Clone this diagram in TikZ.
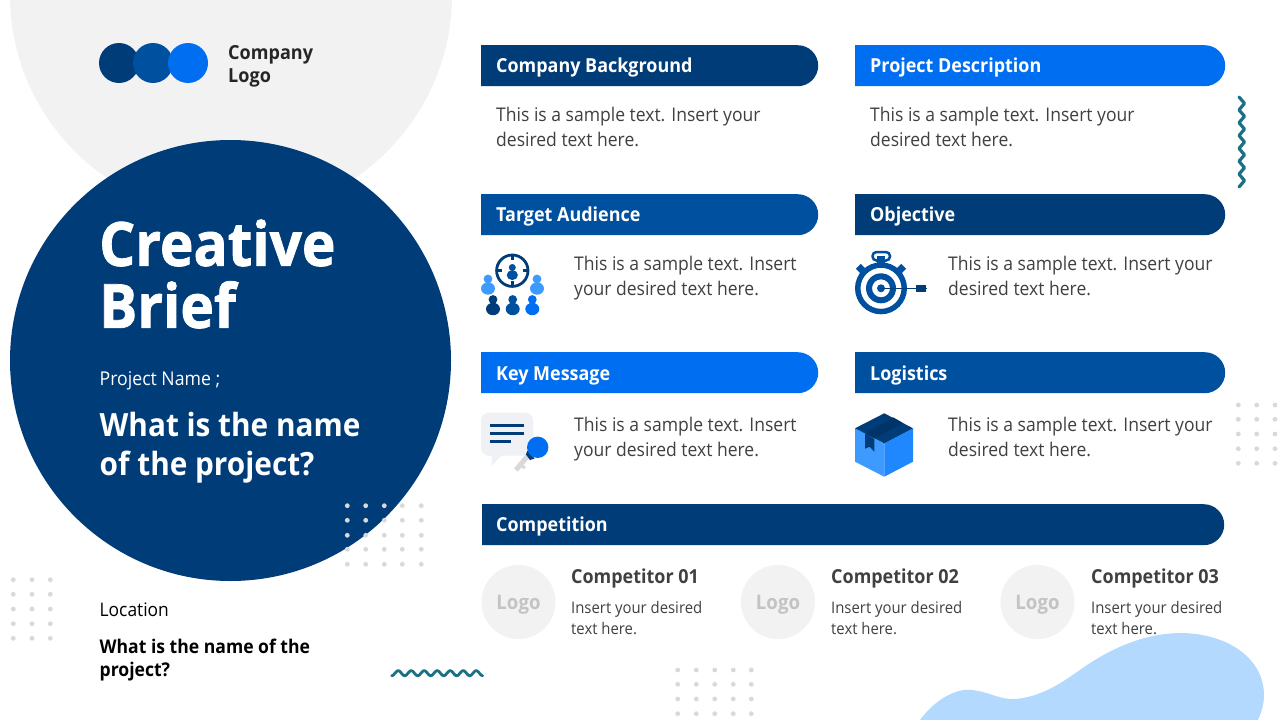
\documentclass[tikz,border=0pt]{standalone}
\usepackage{fontspec}
\setmainfont[FakeStretch=0.93]{Open Sans}
\newfontfamily\titlef[FakeStretch=0.93,BoldFeatures={FakeBold=1.2}]{Open Sans}
\usetikzlibrary{shapes.misc,calc}
\definecolor{navy}{HTML}{003C78}
\definecolor{midb}{HTML}{0050A0}
\definecolor{brightb}{HTML}{006EF0}
\definecolor{skyb}{HTML}{3D9BFF}
\definecolor{faceb}{HTML}{1F88FF}
\definecolor{paleb}{HTML}{B3D9FF}
\definecolor{pale}{HTML}{F2F2F2}
\definecolor{bubble}{HTML}{EFF1F4}
\definecolor{dotc}{HTML}{D9D9D9}
\definecolor{teal2}{HTML}{1A7084}
\definecolor{ink}{HTML}{404040}
\definecolor{ink2}{HTML}{262626}
\tikzset{
 x=1pt,y=-1pt,
 bar/.style={rounded rectangle,rounded rectangle west arc=none,minimum height=41pt,inner sep=0pt,anchor=north west,draw=none},
 barlabel/.style={anchor=base west,inner sep=0pt,text=white,font=\fontsize{19.3}{24}\selectfont\bfseries},
 body/.style={anchor=west,inner sep=0pt,align=left,text=ink,font=\fontsize{18.85}{25}\selectfont},
 small/.style={anchor=west,inner sep=0pt,align=left,text=ink,font=\fontsize{16}{21}\selectfont},
 comphead/.style={anchor=base west,inner sep=0pt,text=ink,font=\fontsize{19.3}{24}\selectfont\bfseries},
 logodisc/.style={circle,fill=pale,minimum size=74pt,inner sep=0pt,text=dotc!90!black,font=\fontsize{20}{24}\selectfont\bfseries},
 zig/.style={draw=teal2,line width=3.2pt,line join=round,line cap=round},
}
\newcommand{\hdr}[7]{% name x y w colour text label-offset
 \node[bar,fill=#5,minimum width=#4pt] (#1) at (#2,#3) {};
 \node[barlabel] (#1t) at ($(#2,#3)+(#7)$) {#6};}
\newcommand{\dotgrid}[2]{\foreach \dx in {#1}{\foreach \dy in {#2}{\fill[dotc] (\dx,\dy) circle (2.4);}}}
\newcommand{\person}[4]{% x y colour scale
 \fill[#3] (#1,#2) circle ({4.4*#4});
 \fill[#3] (#1,{#2+9.5*#4}) ellipse ({7*#4} and {6.2*#4});}
\begin{document}
\begin{tikzpicture}
\useasboundingbox (0,0) rectangle (1280,720);
\fill[white] (0,0) rectangle (1280,720);
% background shapes
\fill[pale] (231,-5) circle (221);
\fill[paleb] (920,720) .. controls (935,700) and (955,688) .. (972,690)
 .. controls (990,692) and (1000,700) .. (1015,699)
 .. controls (1040,697) and (1060,684) .. (1077,672)
 .. controls (1110,648) and (1145,633) .. (1182,633)
 .. controls (1230,634) and (1264,660) .. (1264,695)
 .. controls (1264,705) and (1261,713) .. (1258,720) -- cycle;
\fill[navy] (230.5,360.5) circle (220.5);
\dotgrid{347.3,365.7,384.3,402.3,421.3}{505.7,520.3,535.3,549.3,564.3}
\dotgrid{677.7,696.3,714.7,733.3,751.3}{670,684.3,699,713.7}
\dotgrid{13.3,32,50.3}{579.7,594.3,609,623.7,638.3}
\dotgrid{1238.3,1256.7,1275}{405,419.3,434,448.7,463.3}
% zigzags
\draw[zig] (1239,97) -- (1244.5,103.4) -- (1239,109.9) -- (1244.5,116.3) -- (1239,122.7) -- (1244.5,129.1) -- (1239,135.6) -- (1244.5,142) -- (1239,148.4) -- (1244.5,154.9) -- (1239,161.3) -- (1244.5,167.7) -- (1239,174.1) -- (1244.5,180.6) -- (1239,187);
\draw[zig,line width=2.8pt] plot[domain=0:7,samples=141,smooth] ({391.7+13*\x},{673.2+2.5*cos(360*\x)});
% logo
\fill[navy] (119,63) circle (20);
\fill[midb] (153,63) circle (20);
\fill[brightb] (188,63) circle (20);
\node[anchor=west,inner sep=0pt,align=left,text=ink2,font=\fontsize{19.4}{23}\selectfont\bfseries] (logotext) at (228,66.3) {Company\\Logo};
% left panel text
\node[anchor=west,inner sep=0pt,align=left,text=white,font=\titlef\fontsize{61}{62}\selectfont\bfseries] (title) at (99,274) {Creative\\Brief};
\node[anchor=base west,inner sep=0pt,text=white,font=\fontsize{19}{24}\selectfont] (pname) at (99.5,385) {Project Name ;};
\node[anchor=west,inner sep=0pt,align=left,text=white,font=\fontsize{32}{39}\selectfont\bfseries] (pq) at (99.5,448) {What is the name\\of the project?};
\node[anchor=base west,inner sep=0pt,text=black,font=\fontsize{18.7}{24}\selectfont] (loc) at (99.5,616) {Location};
\node[anchor=west,inner sep=0pt,align=left,text=black,font=\fontsize{18.9}{23}\selectfont\bfseries] (locq) at (99.5,660) {What is the name of the\\project?};
% headers
\hdr{cb}{481}{45}{337}{navy}{Company Background}{15,27}
\hdr{pd}{855}{45}{370}{brightb}{Project Description}{15,27}
\hdr{ta}{481}{194}{337}{midb}{Target Audience}{15,27}
\hdr{ob}{855}{194}{370}{navy}{Objective}{15,27}
\hdr{km}{481}{352}{337}{brightb}{Key Message}{15,28}
\hdr{lg}{855}{352}{370}{midb}{Logistics}{15,28}
\hdr{cp}{482}{504}{742}{navy}{Competition}{14,27}
% body
\node[body] (t1) at (496,127) {This is a sample text. Insert your\\desired text here.};
\node[body] (t2) at (870,127) {This is a sample text. Insert your\\desired text here.};
\node[body] (t3) at (574,278) {This is a sample text. Insert\\your desired text here.};
\node[body] (t4) at (948,276) {This is a sample text. Insert your\\desired text here.};
\node[body] (t5) at (574,439) {This is a sample text. Insert\\your desired text here.};
\node[body] (t6) at (948,437) {This is a sample text. Insert your\\desired text here.};
% competitors
\node[logodisc] (l1) at (518.5,602) {\raisebox{-7.2pt}[0pt][0pt]{Logo}};
\node[logodisc] (l2) at (778,602) {\raisebox{-7.2pt}[0pt][0pt]{Logo}};
\node[logodisc] (l3) at (1037.5,602) {\raisebox{-7.2pt}[0pt][0pt]{Logo}};
\node[comphead] (c1) at (571,583) {Competitor 01};
\node[comphead] (c2) at (831,583) {Competitor 02};
\node[comphead] (c3) at (1091,583) {Competitor 03};
\node[small] (d1) at (571,618) {Insert your desired\\text here.};
\node[small] (d2) at (831,618) {Insert your desired\\text here.};
\node[small] (d3) at (1091,618) {Insert your desired\\text here.};
% target icon
\draw[navy,line width=2.8pt] (512.3,270.7) circle (15.7);
\draw[navy,line width=2.6pt] (512.3,254) -- (512.3,260) (512.3,281.4) -- (512.3,287.4) (495.6,270.7) -- (501.6,270.7) (523,270.7) -- (529,270.7);
\person{512.3}{267.5}{midb}{0.8}
\person{488}{279}{skyb}{1}
\person{537}{279}{skyb}{1}
\person{493}{299.5}{navy}{1}
\person{512.7}{299.5}{midb}{1}
\person{532.3}{299.5}{brightb}{1}
% stopwatch icon
\fill[midb] (877,256) rectangle (885,264);
\draw[midb,line width=2.5pt,rounded corners=4pt] (872.5,252) rectangle (890,260.5);
\fill[midb,rotate around={-45:(861.5,269.5)}] (857,266) rectangle (866,273);
\fill[midb,rotate around={45:(900.5,269.5)}] (896,266) rectangle (905,273);
\fill[midb,even odd rule] (881,288.3) circle (26) (881,288.3) circle (20.5);
\fill[midb,even odd rule] (881,288.3) circle (15) (881,288.3) circle (9);
\fill[midb] (881,288.3) circle (4);
\draw[navy,line width=1.6pt] (881,288.3) -- (927,288.3);
\fill[navy] (916,285) rectangle (925.5,291.6);
% key message icon
\fill[bubble,rounded corners=8pt] (481,412.7) rectangle (533.3,455.7);
\fill[bubble] (491.7,455) -- (491.7,465.7) -- (502,455) -- cycle;
\draw[navy,line width=2.5pt] (490,425.3) -- (524,425.3) (490,433.3) -- (524,433.3) (490,441.7) -- (510.7,441.7);
\draw[dotc,line width=5pt] (530,453) -- (516,470);
\draw[dotc,line width=3pt] (521,465) -- (525,468);
\fill[navy] (527.3,450.7) -- (534.5,458.5) -- (530,460) -- (526,454.5) -- cycle;
\fill[brightb] (537.7,447.3) circle (10.7);
% box icon
\fill[skyb] (855,428.3) -- (884.3,443.3) -- (884.3,476.7) -- (855,461.7) -- cycle;
\fill[faceb] (913,428.3) -- (884.3,443.3) -- (884.3,476.7) -- (913,461.7) -- cycle;
\fill[navy] (884.3,413.3) -- (913,428.3) -- (884.3,443.3) -- (855,428.3) -- cycle;
\fill[navy!85!black] (865,434) -- (874.3,438.4) -- (902.4,422.7) -- (893.3,417.4) -- cycle;
\fill[navy] (865,434) -- (874.3,439) -- (874.3,451.7) -- (869.7,446.7) -- (865,448.7) -- cycle;
\end{tikzpicture}
\end{document}
